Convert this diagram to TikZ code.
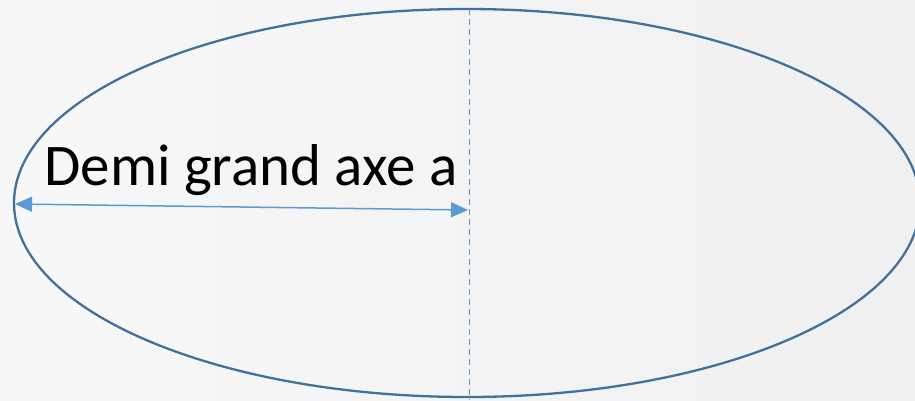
\documentclass[tikz,border=0pt]{standalone}
\usepackage{fontspec}
\setmainfont{Carlito}
\usetikzlibrary{arrows.meta}
\definecolor{ellc}{HTML}{41719C}
\definecolor{arrc}{HTML}{5B9BD5}
\begin{document}
\begin{tikzpicture}[x=1pt,y=-1pt,
  ell/.style={draw=ellc,line width=2.3pt},
  dim/.style={draw=arrc,line width=1.5pt,{Triangle[length=17pt,width=15pt]}-{Triangle[length=17pt,width=15pt]}},
  axis/.style={draw=arrc,line width=1pt,dash pattern=on 6pt off 4pt},
  lbl/.style={font=\fontsize{59}{64}\selectfont,text=black,inner sep=0pt}]
\shade[left color=white!97!black,right color=white!94!black] (0,0) rectangle (915,400);
\useasboundingbox (0,0) rectangle (915,400);
\begin{scope}
\clip (0,0) rectangle (915,400);
\draw[ell] (467,203) ellipse [x radius=453, y radius=194];
\end{scope}
\coordinate (top) at (469,9);
\coordinate (bot) at (469,400);
\draw[axis] (top) -- (bot);
\coordinate (L) at (15,204);
\coordinate (R) at (468,210);
\draw[dim] (L) -- (R);
\node[lbl,anchor=base] (t) at (251,185) {Demi grand axe a};
\end{tikzpicture}
\end{document}
